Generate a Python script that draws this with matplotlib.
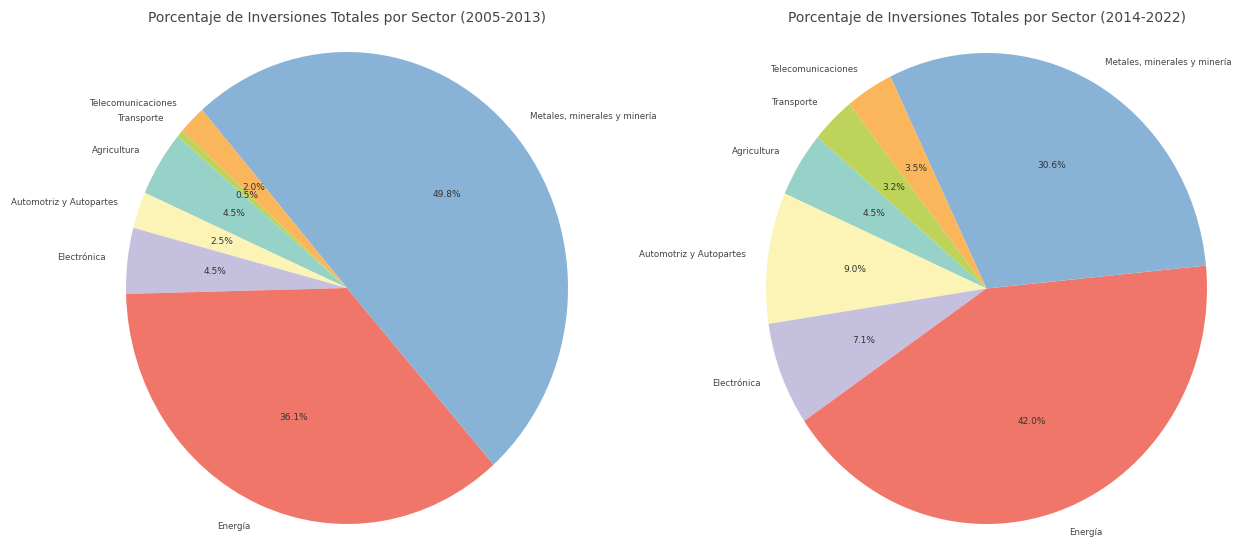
import matplotlib
matplotlib.use("Agg")
import matplotlib.pyplot as plt

sectors = ["Agricultura", "Automotriz y Autopartes", "Electrónica", "Energía",
           "Metales, minerales y minería", "Telecomunicaciones", "Transporte"]
pct_2005_2013 = [4.5, 2.5, 4.5, 36.1, 49.8, 2.0, 0.5]
pct_2014_2022 = [4.5, 9.0, 7.1, 42.0, 30.6, 3.5, 3.2]
titles = ["Porcentaje de Inversiones Totales por Sector (2005-2013)",
          "Porcentaje de Inversiones Totales por Sector (2014-2022)"]
colors = ["#96d2c7", "#fcf3b7", "#c6c0df", "#ef7668", "#88b3d6", "#fbb55a", "#bdd35a"]

W, H = 1241, 540
fig = plt.figure(figsize=(W / 100, H / 100), dpi=100)
fig.patch.set_facecolor("white")

# pie bounding boxes in pixels (left, right, top, bottom)
boxes = [(126, 568, 52, 524), (766, 1207, 53, 524)]
m = 1.02
for vals, title, (l, r, t, b) in zip([pct_2005_2013, pct_2014_2022], titles, boxes):
    cx, cy = (l + r) / 2, (t + b) / 2
    hw, hh = (r - l) / 2 * m, (b - t) / 2 * m
    ax = fig.add_axes([(cx - hw) / W, 1 - (cy + hh) / H, 2 * hw / W, 2 * hh / H])
    wedges, texts, autotexts = ax.pie(
        vals, labels=sectors, colors=colors, autopct="%1.1f%%", startangle=140,
        textprops={"fontsize": 6.3, "color": "#444444"})
    ax.set_aspect("auto")
    ax.set_xlim(-m, m)
    ax.set_ylim(-m, m)
    for at in autotexts:
        at.set_color("#333333")
        at.set_fontsize(6.5)
    fig.text(cx / W, 1 - 18 / H, title, ha="center", va="center",
             fontsize=10, color="#444444")

fig.savefig("out.png", dpi=100, facecolor="white")
